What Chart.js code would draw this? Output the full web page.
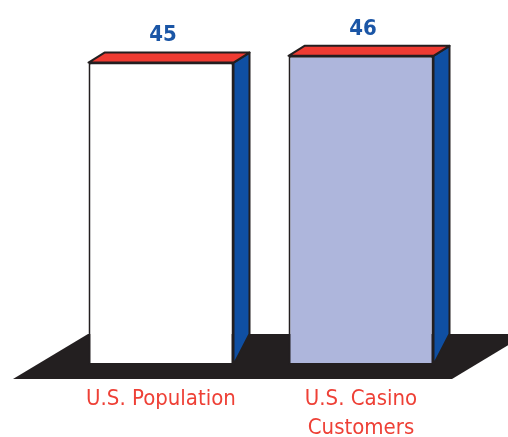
<!DOCTYPE html>
<html>
<head>
<meta charset="utf-8">
<script src="https://cdn.jsdelivr.net/npm/chart.js@4.4.1/dist/chart.umd.min.js"></script>
<style>
  html, body { margin: 0; padding: 0; background: #ffffff; }
  canvas { display: block; }
</style>
</head>
<body>
<canvas id="ageChart" width="508" height="437"></canvas>
<script>
// Data
const categories = [['U.S. Population'], ['U.S. Casino', 'Customers']];
const values = [45, 46];
const frontColors = ['#ffffff', '#aeb6dc'];

const outline = '#231f20';
const depthX = 16;
const depthY = 10;

// Draws the floor, bar tops, bar sides and value labels
const fake3d = {
    id: 'fake3d',
    beforeDatasetsDraw(chart) {
        const ctx = chart.ctx;
        const area = chart.chartArea;
        const base = chart.scales.y.getPixelForValue(0);
        const front = base + 14;
        const back = front - 45;
        ctx.save();
        ctx.fillStyle = outline;
        ctx.beginPath();
        ctx.moveTo(area.left - 48, front);
        ctx.lineTo(area.right - 9, front);
        ctx.lineTo(area.right - 9 + 75, back);
        ctx.lineTo(area.left - 48 + 75, back);
        ctx.closePath();
        ctx.fill();
        ctx.restore();
    },
    afterDatasetsDraw(chart) {
        const ctx = chart.ctx;
        const base = chart.scales.y.getPixelForValue(0);
        const floorBack = base + 14 - 45;
        const bars = chart.getDatasetMeta(0).data;
        ctx.save();
        ctx.lineWidth = 2;
        ctx.lineJoin = 'round';
        ctx.strokeStyle = outline;
        bars.forEach((bar, i) => {
            const left = bar.x - bar.width / 2;
            const right = bar.x + bar.width / 2;
            const top = bar.y;

            // side
            ctx.fillStyle = '#0f4fa3';
            ctx.beginPath();
            ctx.moveTo(right, top);
            ctx.lineTo(right + depthX, top - depthY);
            ctx.lineTo(right + depthX, floorBack);
            ctx.lineTo(right, base);
            ctx.closePath();
            ctx.fill();
            ctx.stroke();

            // top
            ctx.fillStyle = '#ef3b32';
            ctx.beginPath();
            ctx.moveTo(left, top);
            ctx.lineTo(left + depthX, top - depthY);
            ctx.lineTo(right + depthX, top - depthY);
            ctx.lineTo(right, top);
            ctx.closePath();
            ctx.fill();
            ctx.stroke();

            // value
            ctx.fillStyle = '#1b56a6';
            ctx.font = 'bold 22px "Liberation Sans Narrow", "DejaVu Sans Condensed", sans-serif';
            ctx.textAlign = 'center';
            ctx.textBaseline = 'middle';
            ctx.fillText(values[i], bar.x + 2, top - 27);
        });
        ctx.restore();
    }
};

const ageCtx = document.getElementById('ageChart').getContext('2d');

const ageChart = new Chart(ageCtx, {
    type: 'bar',
    data: {
        labels: categories,
        datasets: [{
            data: values,
            backgroundColor: frontColors,
            borderColor: outline,
            borderWidth: 2,
            borderSkipped: false,
            barPercentage: 0.725,
            categoryPercentage: 1
        }]
    },
    options: {
        responsive: false,
        animation: false,
        layout: { padding: { left: 61, right: 47, top: 29, bottom: -18 } },
        plugins: {
            legend: { display: false },
            tooltip: { enabled: false }
        },
        scales: {
            x: {
                grid: { display: false },
                border: { display: false },
                ticks: {
                    color: '#ee4036',
                    padding: 12,
                    maxRotation: 0,
                    font: { family: '"Liberation Sans Narrow", "DejaVu Sans Condensed", sans-serif', size: 22, lineHeight: 1.32 }
                }
            },
            y: {
                display: false,
                min: 0,
                max: 50
            }
        }
    },
    plugins: [fake3d]
});
</script>
</body>
</html>
